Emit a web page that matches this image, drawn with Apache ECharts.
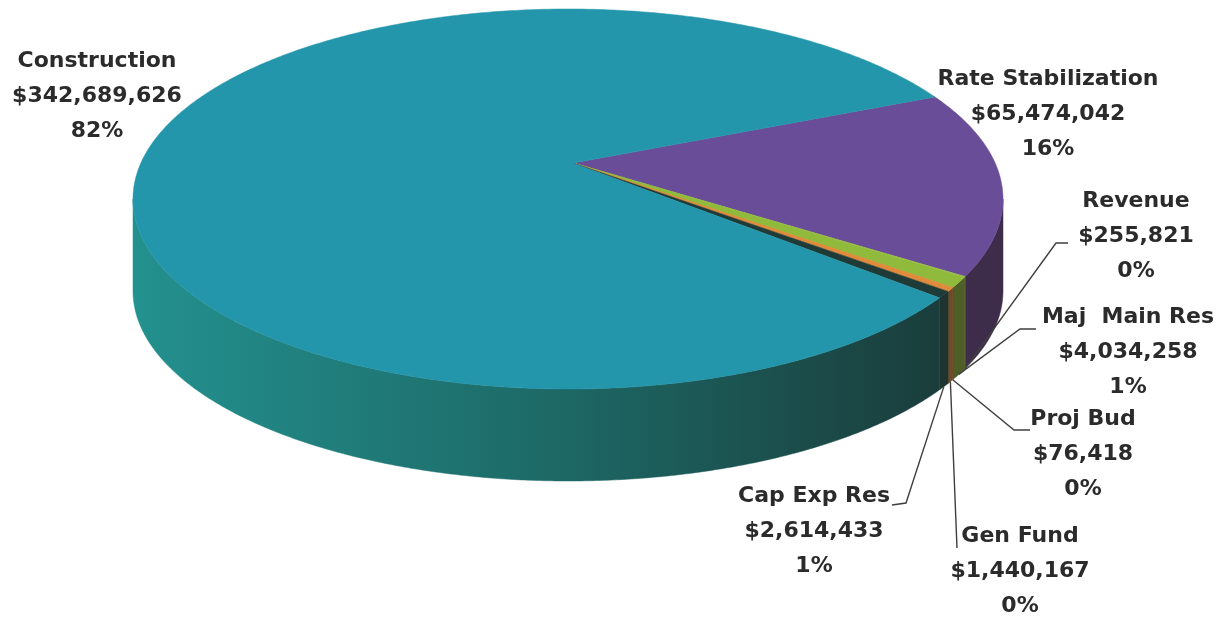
<!DOCTYPE html>
<html>
<head>
<meta charset="utf-8">
<script src="https://cdn.jsdelivr.net/npm/echarts@6/dist/echarts.min.js"></script>
<style>
html, body { margin: 0; padding: 0; background: #fff; }
#main { width: 1223px; height: 621px; }
</style>
</head>
<body>
<div id="main"></div>
<script>
// slices in clockwise order, starting at the purple one
var names = ['Rate Stabilization', 'Revenue', 'Maj  Main Res', 'Proj Bud', 'Gen Fund', 'Cap Exp Res', 'Construction'];
var values = [65474042, 255821, 4034258, 76418, 1440167, 2614433, 342689626];

var topColors = ['#6a4d99', '#9cc23e', '#8fba3c', '#e08b3c', '#e08b3c', '#1f3b37', '#2496ab'];
var sideColors = ['#3e2d4a', '#4f5e26', '#4f5e26', '#6e4a28', '#6e4a28', '#1d3430', 'grad'];

// label block (center x, top y) and leader line points near the text
var labelPos = [[1048, 62], [1136, 184], [1128, 300], [1083, 402], [1020, 519], [814, 479], [97, 44]];
var leaderPts = [null, [[1056, 243], [1068, 243]], [[1020, 329], [1036, 329]], [[1014, 430], [1030, 430]],
                 [[957, 548]], [[906, 503], [892, 505]], null];

var dom = document.getElementById('main');
var myChart = echarts.init(dom);

var total = values.reduce(function (a, b) { return a + b; }, 0);
var startDeg = -32.5;
// ellipse of the top face, depth of the side and the perspective apex
var CX = 568, CY = 199, RX = 435, RY = 190, DEPTH = 92, AX = 573, AY = 163;

function rim(deg, dy) {
    var r = deg * Math.PI / 180;
    return [CX + RX * Math.cos(r), CY + RY * Math.sin(r) + (dy || 0)];
}

function arcPts(a, b, dy) {
    var n = Math.max(2, Math.ceil(Math.abs(b - a) / 0.5));
    var pts = [];
    for (var k = 0; k <= n; k++) {
        pts.push(rim(a + (b - a) * k / n, dy));
    }
    return pts;
}

function renderItem(params, api) {
    var i = params.dataIndex;
    var v = api.value(1);
    var before = 0;
    for (var k = 0; k < i; k++) before += values[k];
    var s = startDeg + before / total * 360;
    var e = startDeg + (before + v) / total * 360;
    var children = [];

    // outer wall, only the front half (0..180 deg) is seen
    for (var m = -1; m <= 1; m++) {
        var lo = Math.max(s, m * 360), hi = Math.min(e, m * 360 + 180);
        if (hi > lo) {
            var pts = arcPts(lo, hi, 0).concat(arcPts(hi, lo, DEPTH));
            var fill = sideColors[i];
            if (fill === 'grad') {
                fill = new echarts.graphic.LinearGradient(133, 0, 950, 0, [
                    { offset: 0, color: '#23918f' },
                    { offset: 0.5, color: '#1d6a67' },
                    { offset: 1, color: '#1a3c3a' }
                ], true);
            }
            children.push({
                type: 'polygon', z2: 1,
                shape: { points: pts },
                style: { fill: fill, stroke: fill, lineWidth: 0.5 }
            });
        }
    }

    // top face
    children.push({
        type: 'polygon', z2: 10,
        shape: { points: [[AX, AY]].concat(arcPts(s, e, 0)) },
        style: { fill: topColors[i], stroke: topColors[i], lineWidth: 0.5 }
    });

    // leader line from the bottom rim of the slice
    if (leaderPts[i]) {
        var mid = (s + e) / 2;
        children.push({
            type: 'polyline', z2: 20,
            shape: { points: [rim(mid, DEPTH)].concat(leaderPts[i]) },
            style: { stroke: '#3f3f3f', lineWidth: 1.4, fill: null }
        });
    }

    var pct = Math.round(v / total * 100) + '%';
    children.push({
        type: 'text', z2: 30,
        style: {
            text: names[i] + '\n$' + v.toLocaleString('en-US') + '\n' + pct,
            x: labelPos[i][0], y: labelPos[i][1],
            align: 'center', verticalAlign: 'top',
            fill: '#2b2b2b',
            fontSize: 22, fontWeight: 'bold', fontFamily: 'DejaVu Sans',
            lineHeight: 35
        }
    });

    return { type: 'group', children: children };
}

var option = {
    backgroundColor: '#fff',
    animation: false,
    series: [{
        type: 'custom',
        coordinateSystem: 'none',
        renderItem: renderItem,
        data: values.map(function (v, i) { return { name: names[i], value: [i, v] }; })
    }]
};
myChart.setOption(option, true);
</script>
</body>
</html>
